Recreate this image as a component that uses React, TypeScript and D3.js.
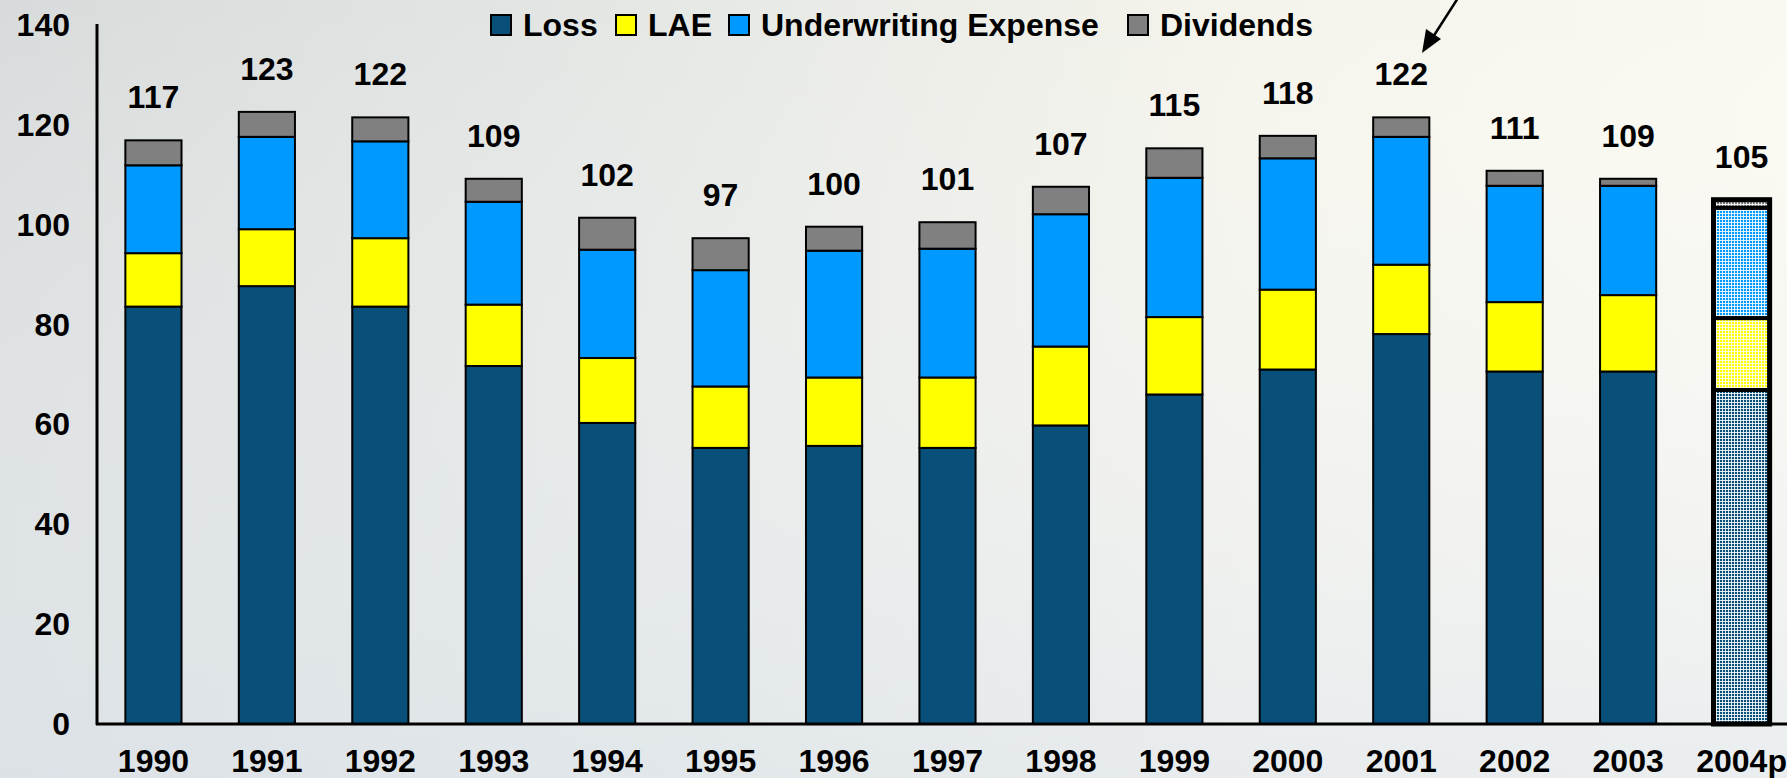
import React from "react";
import * as d3 from "d3";

const years = ["1990","1991","1992","1993","1994","1995","1996","1997","1998","1999","2000","2001","2002","2003","2004p"];
const loss = [83.6, 87.7, 83.6, 71.7, 60.3, 55.3, 55.7, 55.3, 59.8, 66.0, 71.0, 78.1, 70.6, 70.6, 66.9];
const lae = [10.7, 11.4, 13.7, 12.3, 13.0, 12.3, 13.7, 14.1, 15.8, 15.5, 16.0, 13.9, 13.9, 15.3, 14.4];
const underwriting = [17.6, 18.5, 19.4, 20.6, 21.7, 23.3, 25.4, 25.8, 26.5, 27.9, 26.3, 25.6, 23.3, 21.9, 22.1];
const dividends = [5.0, 5.0, 4.8, 4.6, 6.4, 6.4, 4.8, 5.3, 5.5, 5.9, 4.5, 3.9, 3.0, 1.4, 1.6];
const totalLabels = ["117","123","122","109","102","97","100","101","107","115","118","122","111","109","105"];
const seriesNames = ["Loss", "LAE", "Underwriting Expense", "Dividends"];
const yTicks = [0, 20, 40, 60, 80, 100, 120, 140];
const projectedYear = "2004p";

const colors = ["#08507a", "#ffff00", "#0099ff", "#808080"];
const W = 1787, H = 778;
const FONT = "'Liberation Sans', Arial, sans-serif";

export default function App() {
  const x = d3.scaleBand<string>().domain(years).range([97, 97 + 113.4 * years.length]).paddingInner(0.505).paddingOuter(0.25);
  const y = d3.scaleLinear().domain([0, 140]).range([724, 25]);
  const rows = years.map((yr, i) => ({ year: yr, Loss: loss[i], LAE: lae[i], "Underwriting Expense": underwriting[i], Dividends: dividends[i] }));
  const stack = d3.stack<any>().keys(seriesNames)(rows);

  const legendX = [491, 616, 729, 1128];

  return (
    <svg width={W} height={H} style={{ position: "absolute", left: 0, top: 0, fontFamily: FONT }}>
      <defs>
        <linearGradient id="bg" x1="0" y1="0" x2="1" y2="0">
          <stop offset="0" stopColor="#d7dbdb" />
          <stop offset="0.35" stopColor="#e4e7e4" />
          <stop offset="0.7" stopColor="#f5f4ec" />
          <stop offset="1" stopColor="#faf9f1" />
        </linearGradient>
        <linearGradient id="bg2" x1="0" y1="0" x2="0" y2="1">
          <stop offset="0" stopColor="#ffffff" stopOpacity="0" />
          <stop offset="1" stopColor="#dfe6ee" stopOpacity="0.6" />
        </linearGradient>
        {colors.map((c, i) => (
          <pattern key={i} id={"pat" + i} width="3" height="3" patternUnits="userSpaceOnUse">
            <rect width="3" height="3" fill={c} />
            <rect width="3" height="1" fill="#ffffff" opacity="0.85" />
            <rect width="1" height="3" fill="#ffffff" opacity="0.85" />
          </pattern>
        ))}
      </defs>
      <rect width={W} height={H} fill="url(#bg)" />
      <rect width={W} height={H} fill="url(#bg2)" />

      {/* bars */}
      {stack.map((s, si) => (
        <g key={s.key}>
          {s.map((d: any, i: number) => {
            const yr = years[i];
            const proj = yr === projectedYear;
            return (
              <rect
                key={yr}
                x={x(yr)}
                y={y(d[1])}
                width={x.bandwidth()}
                height={y(d[0]) - y(d[1])}
                fill={proj ? `url(#pat${si})` : colors[si]}
                stroke="#000"
                strokeWidth={proj ? 4 : 2}
              />
            );
          })}
        </g>
      ))}
      {years.filter((yr) => yr === projectedYear).map((yr) => {
        const i = years.indexOf(yr);
        const tot = loss[i] + lae[i] + underwriting[i] + dividends[i];
        return (
          <rect key={yr} x={x(yr)} y={y(tot)} width={x.bandwidth()} height={y(0) - y(tot)} fill="none" stroke="#000" strokeWidth={5} />
        );
      })}

      {/* total labels */}
      {years.map((yr, i) => {
        const tot = loss[i] + lae[i] + underwriting[i] + dividends[i];
        return (
          <text key={yr} x={(x(yr) as number) + x.bandwidth() / 2} y={y(tot) - 32} textAnchor="middle" fontSize={32} fontWeight="bold" fill="#000">
            {totalLabels[i]}
          </text>
        );
      })}

      {/* axes */}
      <line x1={97} x2={97} y1={24} y2={725} stroke="#000" strokeWidth={3} />
      <line x1={96} x2={W} y1={724} y2={724} stroke="#000" strokeWidth={3} />
      {yTicks.map((t) => (
        <text key={t} x={70} y={y(t) + 11} textAnchor="end" fontSize={32} fontWeight="bold" fill="#000">
          {t}
        </text>
      ))}
      {years.map((yr) => (
        <text key={yr} x={(x(yr) as number) + x.bandwidth() / 2} y={772} textAnchor="middle" fontSize={32} fontWeight="bold" fill="#000">
          {yr}
        </text>
      ))}

      {/* legend */}
      {seriesNames.map((name, i) => (
        <g key={name}>
          <rect x={legendX[i]} y={15} width={20} height={20} fill={colors[i]} stroke="#000" strokeWidth={2} />
          <text x={legendX[i] + 32} y={36} fontSize={32} fontWeight="bold" fill="#000">
            {name}
          </text>
        </g>
      ))}

      {/* arrow */}
      <line x1={1458} y1={-2} x2={1433} y2={37} stroke="#000" strokeWidth={2.5} />
      <path d="M1422,53 L1426,29 L1441,39 Z" fill="#000" />
    </svg>
  );
}
